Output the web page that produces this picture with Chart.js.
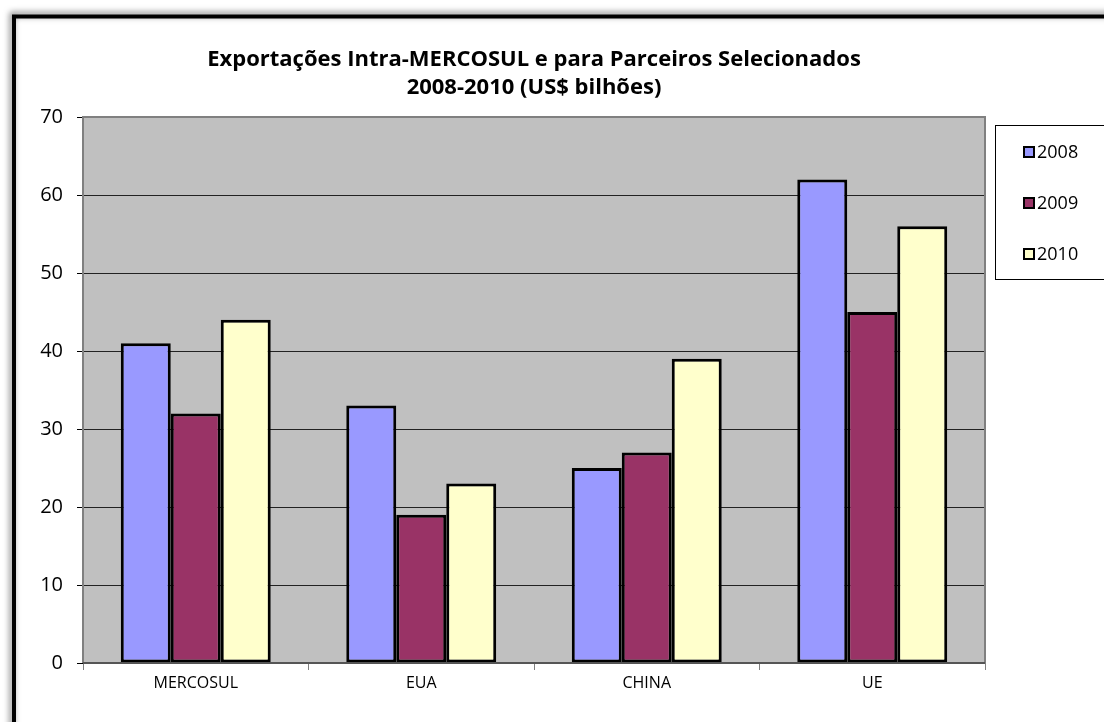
<!DOCTYPE html>
<html>
<head>
<meta charset="utf-8">
<script src="https://cdn.jsdelivr.net/npm/chart.js@4"></script>
<style>
html,body{margin:0;padding:0;background:#fff;}
#wrap{position:relative;width:1104px;height:722px;}
canvas{display:block;}
</style>
</head>
<body>
<div id="wrap"><canvas id="c" width="1104" height="722"></canvas></div>
<script>
const categories = ["MERCOSUL", "EUA", "CHINA", "UE"];
const seriesNames = ["2008", "2009", "2010"];
const values2008 = [41, 33, 25, 62];
const values2009 = [32, 19, 27, 45];
const values2010 = [44, 23, 39, 56];
const seriesColors = ["#9999FF", "#993366", "#FFFFCC"];
const titleLines = ["Exportações Intra-MERCOSUL e para Parceiros Selecionados", "2008-2010 (US$ bilhões)"];
const yMin = 0, yMax = 70, yStep = 10;

const FONT = "'Open Sans', 'DejaVu Sans', sans-serif";

const framePlugin = {
  id: 'frame',
  beforeDraw(chart) {
    const ctx = chart.ctx;
    ctx.save();
    ctx.fillStyle = '#fff';
    ctx.fillRect(0, 0, chart.width, chart.height);
    ctx.shadowColor = 'rgba(0,0,0,0.55)';
    ctx.shadowBlur = 6;
    ctx.shadowOffsetX = -2;
    ctx.shadowOffsetY = -2;
    ctx.strokeStyle = '#000';
    ctx.lineWidth = 4;
    ctx.strokeRect(14, 16.5, 1110, 740);
    ctx.restore();
    const a = chart.chartArea;
    ctx.save();
    ctx.fillStyle = '#C0C0C0';
    ctx.fillRect(a.left, a.top, a.right - a.left, a.bottom - a.top);
    ctx.restore();
  },
  afterDraw(chart) {
    const ctx = chart.ctx;
    const a = chart.chartArea;
    ctx.save();
    ctx.strokeStyle = '#808080';
    ctx.lineWidth = 2;
    ctx.beginPath();
    ctx.moveTo(a.left, a.bottom);
    ctx.lineTo(a.left, a.top);
    ctx.lineTo(a.right, a.top);
    ctx.lineTo(a.right, a.bottom);
    ctx.stroke();
    ctx.strokeStyle = '#555';
    ctx.lineWidth = 2;
    ctx.beginPath();
    ctx.moveTo(a.left, a.bottom);
    ctx.lineTo(a.right, a.bottom);
    ctx.stroke();
    // title
    ctx.fillStyle = '#000';
    ctx.font = "bold 22px " + FONT;
    ctx.textAlign = 'center';
    ctx.textBaseline = 'middle';
    const cx = (a.left + a.right) / 2;
    ctx.fillText(titleLines[0], cx, 60);
    ctx.fillText(titleLines[1], cx, 88);
    // legend
    ctx.strokeStyle = '#000';
    ctx.lineWidth = 1;
    ctx.strokeRect(995.5, 125.5, 120, 154);
    const ys = [152, 203, 254];
    chart.data.datasets.forEach((ds, i) => {
      ctx.fillStyle = ds.backgroundColor;
      ctx.fillRect(1024, ys[i] - 5, 10, 10);
      ctx.strokeStyle = '#000';
      ctx.lineWidth = 2;
      ctx.strokeRect(1024, ys[i] - 5, 10, 10);
      ctx.fillStyle = '#000';
      ctx.font = "18px " + FONT;
      ctx.textAlign = 'left';
      ctx.textBaseline = 'middle';
      ctx.fillText(ds.label, 1037, ys[i] + 1);
    });
    ctx.restore();
  }
};

const datasets = [values2008, values2009, values2010].map((v, i) => ({
  label: seriesNames[i],
  data: v,
  backgroundColor: seriesColors[i],
  borderColor: '#000',
  borderWidth: 3,
  borderSkipped: false,
  barPercentage: 1.0,
  categoryPercentage: 0.665
}));

new Chart(document.getElementById('c'), {
  type: 'bar',
  data: { labels: categories, datasets },
  options: {
    responsive: false,
    animation: false,
    layout: { padding: { left: 0, top: 117, right: 119, bottom: 19 } },
    plugins: { legend: { display: false }, title: { display: false }, tooltip: { enabled: false } },
    scales: {
      x: {
        grid: { offset: true, drawOnChartArea: false, drawTicks: true, tickLength: 7, tickColor: '#808080', tickWidth: 1 },
        border: { display: false },
        ticks: { color: '#000', font: { family: FONT, size: 16 }, padding: 4 },
        afterFit(s) { s.height = 40; }
      },
      y: {
        min: yMin, max: yMax,
        grid: { color: (c) => (c.tick && (c.tick.value === yMin || c.tick.value === yMax)) ? 'rgba(0,0,0,0)' : '#222', lineWidth: 1, tickLength: 6, tickColor: '#000', drawTicks: true },
        border: { display: false },
        ticks: { stepSize: yStep, color: '#000', font: { family: FONT, size: 20 }, padding: 14 },
        afterFit(s) { s.width = 83; }
      }
    }
  },
  plugins: [framePlugin]
});
</script>
</body>
</html>
